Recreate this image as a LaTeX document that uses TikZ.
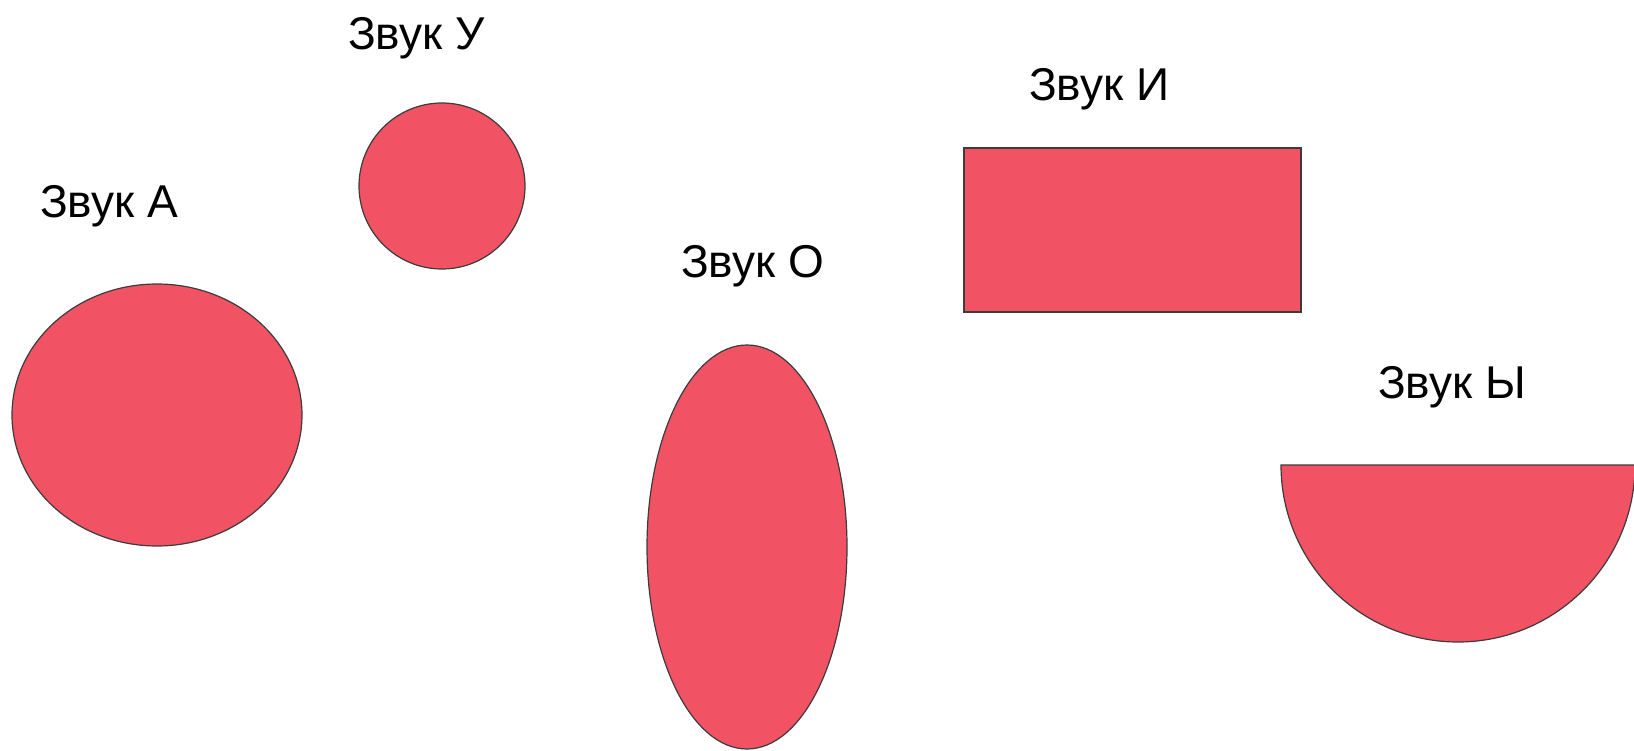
\documentclass[tikz,border=0pt]{standalone}
\usepackage{fontspec}
\setmainfont{Liberation Sans}
\usetikzlibrary{shapes.geometric,positioning,calc}
\definecolor{sndred}{RGB}{241,82,100}
\definecolor{sndline}{RGB}{60,60,60}
\tikzset{
  figure/.style={draw=sndline, line width=1.2pt, fill=sndred, inner sep=0pt},
  roundfig/.style={figure, ellipse},
  boxfig/.style={figure, rectangle},
  label/.style={anchor=base west, inner sep=0pt, font=\fontsize{46}{50}\selectfont}
}
\begin{document}
\begin{tikzpicture}[x=1pt,y=-1pt]
\useasboundingbox (0,0) rectangle (1634,751);
% shapes
\node[roundfig, minimum width=290pt, minimum height=262pt] (a) at (157,415) {};
\node[roundfig, minimum width=166pt, minimum height=166pt] (u) at (442,186) {};
\node[roundfig, minimum width=200pt, minimum height=404pt] (o) at (747,547) {};
\node[boxfig, minimum width=337pt, minimum height=164pt] (i) at (1132.5,230) {};
\coordinate (yc) at (1458,465);
\draw[figure] ($(yc)+(-177,0)$) arc[start angle=180, end angle=360, radius=177pt] -- cycle;
% labels
\node[label] (la) at (40,218) {Звук А};
\node[label] (lu) at (348,50) {Звук У};
\node[label] (lo) at (681,278) {Звук О};
\node[label] (li) at (1029,101) {Звук И};
\node[label] (ly) at (1378,399) {Звук Ы};
\end{tikzpicture}
\end{document}
